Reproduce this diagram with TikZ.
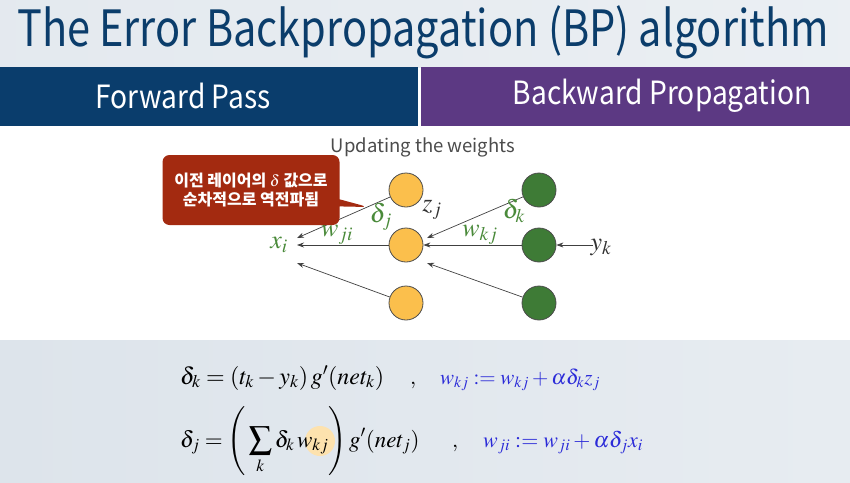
\documentclass[tikz,border=0pt]{standalone}
\usepackage{mathptmx}
\usepackage{fontspec}
\setmainfont{Liberation Serif}
\newfontfamily\krfont{Noto Sans CJK KR}
\newfontfamily\titlefont[FakeStretch=0.83]{Noto Sans CJK KR}
\newfontfamily\barfont[FakeStretch=0.88]{Noto Sans CJK KR}
\usetikzlibrary{shapes.callouts,arrows.meta}
\definecolor{titleblue}{HTML}{0B3D6B}
\definecolor{barblue}{HTML}{0A3D6C}
\definecolor{barpurple}{HTML}{5C3983}
\definecolor{nodeyellow}{HTML}{FBBF4C}
\definecolor{nodegreen}{HTML}{3E7B36}
\definecolor{labgreen}{HTML}{4A8A3A}
\definecolor{notered}{HTML}{A32A10}
\definecolor{eqblue}{HTML}{2B2BD8}
\definecolor{bggray}{HTML}{DDE4EB}

\begin{document}
\begin{tikzpicture}[x=1pt, y=-1pt,
  neuron/.style={circle, draw=black!70, line width=0.8pt, minimum size=34pt, inner sep=0pt},
  conn/.style={-{Stealth[length=7pt,width=5pt]}, black!75, line width=0.7pt},
  lab/.style={font=\fontsize{26}{26}\selectfont, text=labgreen, inner sep=0pt},
  eq/.style={anchor=base west, inner sep=0pt, font=\fontsize{22}{24}\selectfont}]
  \useasboundingbox (0,0) rectangle (850,482);

  % Background bands
  \shade[left color=bggray!80, right color=bggray!60!white] (0,0) rectangle (850,67);
  \fill[white] (0,127) rectangle (850,340);
  \shade[left color=bggray, right color=bggray!70!white] (0,340) rectangle (850,482);
  \fill[barblue] (0,67) rectangle (418,126);
  \fill[barpurple] (421,67) rectangle (850,126);

  % Title and bar texts
  \node[text=titleblue, font=\titlefont\fontsize{50}{54}\selectfont] (title) at (423,32) {The Error Backpropagation (BP) algorithm};
  \node[text=white, font=\barfont\fontsize{32}{34}\selectfont] (fwd) at (183,96) {Forward Pass};
  \node[text=white, font=\barfont\fontsize{32}{34}\selectfont] (bwd) at (662,96) {Backward Propagation};
  \node[text=black!70, font=\krfont\fontsize{18.5}{20}\selectfont] (upd) at (423,147) {Updating the weights};

  % Hidden (yellow) and output (green) units
  \node[neuron, fill=nodeyellow] (h1) at (406,190) {};
  \node[neuron, fill=nodeyellow] (h2) at (406,245) {};
  \node[neuron, fill=nodeyellow] (h3) at (406,303) {};
  \node[neuron, fill=nodegreen] (o1) at (539,190) {};
  \node[neuron, fill=nodegreen] (o2) at (539,245) {};
  \node[neuron, fill=nodegreen] (o3) at (539,303) {};

  % Free ends
  \coordinate (xa) at (297,238);
  \coordinate (xb) at (297,245);
  \coordinate (xc) at (297,263);
  \coordinate (za) at (427,238);
  \coordinate (zc) at (427,263);
  \coordinate (yin) at (593,245);

  % Backward arrows
  \draw[conn] (h1) -- (xa);
  \draw[conn] (h2) -- (xb);
  \draw[conn] (h3) -- (xc);
  \draw[conn] (o1) -- (za);
  \draw[conn] (o2) -- (h2);
  \draw[conn] (o3) -- (zc);
  \draw[conn] (yin) -- (o2);

  % Labels
  \node[lab] (xi) at (279,245) {$x_i$};
  \node[lab] (wji) at (337,235) {$w_{ji}$};
  \node[lab] (dj) at (381,217) {$\delta_j$};
  \node[lab, text=black!80] (zj) at (432,210) {$z_j$};
  \node[lab] (wkj) at (480,235) {$w_{kj}$};
  \node[lab] (dk) at (514,211) {$\delta_k$};
  \node[lab, text=black!80] (yk) at (601,247) {$y_k$};

  % Callout
  \node[rectangle callout, fill=notered, rounded corners=7pt, minimum width=177pt, minimum height=70pt,
        callout absolute pointer={(368,207)}, text=white, align=center,
        font=\krfont\bfseries\fontsize{16}{19}\selectfont] (note) at (251,190)
        {이전 레이어의 $\delta$ 값으로\\순차적으로 역전파됨};

  % Equations
  \fill[nodeyellow!45] (320,441) circle (15);
  \node[eq, font=\fontsize{24}{26}\selectfont] (eq1l) at (180,384) {$\delta_k = (t_k - y_k)\,g'(net_k)$};
  \node[eq] (eq1c) at (410,384) {$,$};
  \node[eq, text=eqblue, font=\fontsize{21}{24}\selectfont] (eq1r) at (440,384) {$w_{kj} := w_{kj} + \alpha\delta_k z_j$};
  \node[eq, font=\fontsize{23}{26}\selectfont] (eq2l) at (180,447) {$\displaystyle \delta_j = \Biggl(\,\sum_k \delta_k\, w_{kj}\Biggr)\,g'(net_j)$};
  \node[eq] (eq2c) at (452,447) {$,$};
  \node[eq, text=eqblue] (eq2r) at (483,447) {$w_{ji} := w_{ji} + \alpha\delta_j x_i$};
\end{tikzpicture}
\end{document}
